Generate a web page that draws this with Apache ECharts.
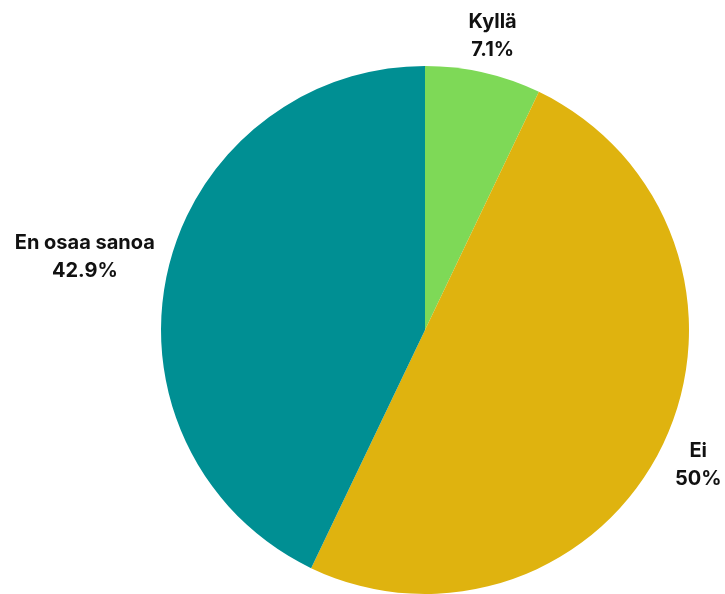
<!DOCTYPE html>
<html>
<head>
<meta charset="utf-8">
<script src="https://cdn.jsdelivr.net/npm/echarts@6/dist/echarts.min.js"></script>
<style>
  html, body { margin: 0; padding: 0; background: #ffffff; }
  #chart { width: 725px; height: 594px; }
</style>
</head>
<body>
<div id="chart"></div>
<script>
// Survey answers and their shares (%)
const categories = ['Kyllä', 'Ei', 'En osaa sanoa'];
const values = [7.1, 50, 42.9];
const colors = ['#7ED957', '#DFB30F', '#008F93'];

const CENTER = [425, 330];
const RADIUS = 264;
const GAP = 13;        // space between slice edge and its label box
const TEXT_NUDGE = 4;  // small downward shift so the glyphs sit on the box centre

const chart = echarts.init(document.getElementById('chart'), null, { renderer: 'canvas' });

// Mid-angle of each slice, measured clockwise from 12 o'clock
const total = values.reduce((a, b) => a + b, 0);
const midAngles = [];
let acc = 0;
values.forEach(v => {
  midAngles.push((acc + v / 2) / total * Math.PI * 2);
  acc += v;
});

chart.setOption({
  animation: false,
  backgroundColor: '#ffffff',
  series: [{
    type: 'pie',
    center: CENTER,
    radius: RADIUS,
    startAngle: 90,
    clockwise: true,
    avoidLabelOverlap: false,
    data: categories.map((name, i) => ({
      name: name,
      value: values[i],
      itemStyle: { color: colors[i] }
    })),
    itemStyle: { borderWidth: 0 },
    label: {
      show: true,
      position: 'outside',
      formatter: p => p.name + '\n' + p.value + '%',
      fontFamily: 'Inter',
      fontWeight: 700,
      fontSize: 20,
      lineHeight: 28,
      color: '#111111',
      align: 'center'
    },
    labelLine: { show: false },
    emphasis: { disabled: true },
    // Place each label box radially outside its slice, just past the edge
    labelLayout: function (p) {
      const a = midAngles[p.dataIndex];
      const dx = Math.sin(a), dy = -Math.cos(a);
      const hw = p.labelRect.width / 2, hh = p.labelRect.height / 2;
      const t = Math.min(Math.abs(dx) > 1e-6 ? hw / Math.abs(dx) : Infinity,
                         Math.abs(dy) > 1e-6 ? hh / Math.abs(dy) : Infinity);
      const d = RADIUS + GAP + t;
      return {
        x: CENTER[0] + dx * d,
        y: CENTER[1] + dy * d + TEXT_NUDGE,
        align: 'center',
        verticalAlign: 'middle'
      };
    }
  }]
});
</script>
</body>
</html>
